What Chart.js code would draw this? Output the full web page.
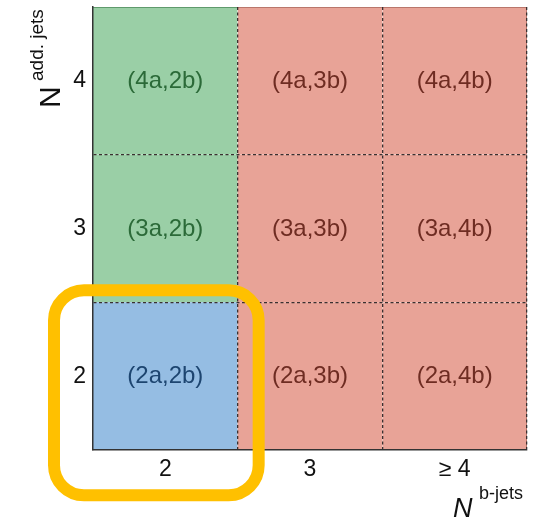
<!DOCTYPE html>
<html>
<head>
<meta charset="utf-8">
<script src="https://cdn.jsdelivr.net/npm/chart.js@4.4.0/dist/chart.umd.min.js"></script>
<style>
  html, body { margin: 0; padding: 0; background: #fff; }
  #wrap { width: 543px; height: 522px; }
</style>
</head>
<body>
<div id="wrap"><canvas id="grid"></canvas></div>
<script>
// b-jet multiplicity bins (x) and additional-jet bins (y, bottom to top)
var bJetBins = ['2', '3', '\u2265 4'];
var addJetBins = ['2', '3', '4'];
var addJetCodes = ['2a', '3a', '4a'];
var bJetCodes = ['2b', '3b', '4b'];
// region of each cell: rows = add. jets (2,3,4), columns = b-jets (2,3,>=4)
var regions = [
    ['signal', 'control', 'control'],
    ['valid', 'control', 'control'],
    ['valid', 'control', 'control']
];
var cellHeight = [1, 1, 1]; // every cell is one unit tall

var fills = { signal: '#95bde3', valid: '#9acfa6', control: '#e8a397' };
var edges = { signal: '#5a7fa6', valid: '#5f9a6c', control: '#b9766b' };
var inks = { signal: '#1d4570', valid: '#2b6a38', control: '#6e2c22' };

var FONT = '"Liberation Sans", Arial, Helvetica, sans-serif';

// labels "(Na,Mb)" in the middle of each cell
var cellLabels = {
    id: 'cellLabels',
    afterDatasetsDraw: function (chart) {
        var ctx = chart.ctx;
        ctx.save();
        ctx.font = '24px ' + FONT;
        ctx.textAlign = 'center';
        ctx.textBaseline = 'middle';
        chart.data.datasets.forEach(function (ds, row) {
            chart.getDatasetMeta(row).data.forEach(function (bar, col) {
                ctx.fillStyle = inks[regions[row][col]];
                ctx.fillText('(' + addJetCodes[row] + ',' + bJetCodes[col] + ')', bar.x, (bar.y + bar.base) / 2 + 1);
            });
        });
        ctx.restore();
    }
};

// axis titles with superscripts + the highlight box round the (2a,2b) cell
var extras = {
    id: 'extras',
    afterDraw: function (chart) {
        var ctx = chart.ctx;
        ctx.save();
        ctx.fillStyle = '#111';
        ctx.textBaseline = 'alphabetic';

        // x title: N^{b-jets}
        ctx.textAlign = 'left';
        ctx.font = 'italic 27px ' + FONT;
        ctx.fillText('N', 453, 517);
        ctx.font = '18px ' + FONT;
        ctx.fillText('b-jets', 479, 499);

        // y title: N^{add. jets}, rotated
        ctx.save();
        ctx.translate(60, 108);
        ctx.rotate(-Math.PI / 2);
        ctx.font = '30px ' + FONT;
        ctx.fillText('N', 0, 0);
        ctx.font = '19px ' + FONT;
        ctx.fillText('add. jets', 27, -17);
        ctx.restore();

        // highlight box round the first cell
        var bar = chart.getDatasetMeta(0).data[0];
        var half = bar.width / 2;
        var x0 = bar.x - half - 39, x1 = bar.x + half + 21;
        var y0 = bar.y - 12, y1 = bar.base + 46;
        ctx.strokeStyle = '#ffc000';
        ctx.lineWidth = 12;
        ctx.beginPath();
        ctx.roundRect(x0, y0, x1 - x0, y1 - y0, 30);
        ctx.stroke();
        ctx.restore();
    }
};

var datasets = addJetBins.map(function (label, row) {
    return {
        label: label,
        data: bJetBins.map(function () { return cellHeight[row]; }),
        backgroundColor: regions[row].map(function (r) { return fills[r]; }),
        borderColor: regions[row].map(function (r) { return edges[r]; }),
        borderWidth: function (c) {
            return {
                top: row === addJetBins.length - 1 ? 1 : 0,
                right: c.dataIndex === bJetBins.length - 1 ? 1 : 0,
                bottom: 0,
                left: 0
            };
        },
        borderSkipped: false,
        inflateAmount: 0,
        barPercentage: 1,
        categoryPercentage: 1
    };
});

new Chart(document.getElementById('grid'), {
    type: 'bar',
    data: { labels: bJetBins, datasets: datasets },
    plugins: [cellLabels, extras],
    options: {
        responsive: true,
        maintainAspectRatio: false,
        animation: false,
        layout: { padding: { top: 7, right: 16, left: 0, bottom: 0 } },
        plugins: { legend: { display: false }, tooltip: { enabled: false } },
        scales: {
            x: {
                stacked: true,
                grid: {
                    z: 1,
                    offset: true,
                    drawTicks: false,
                    lineWidth: 1.3,
                    color: function (c) {
                        return (c.index === 0 || c.index === bJetBins.length) ? 'rgba(0,0,0,0)' : '#3a3030';
                    }
                },
                border: { display: true, color: '#333', width: 1.5, dash: [3, 2.5], z: 2 },
                ticks: { color: '#111', font: { family: FONT, size: 23 }, padding: 6 },
                afterFit: function (s) { s.height = 72; s.paddingLeft = 0; s.paddingRight = 0; }
            },
            y: {
                stacked: true,
                min: 0,
                max: addJetBins.length,
                afterBuildTicks: function (s) {
                    var t = [];
                    for (var v = 0; v <= addJetBins.length; v += 0.5) t.push({ value: v });
                    s.ticks = t;
                },
                grid: {
                    z: 1,
                    drawTicks: false,
                    lineWidth: 1.3,
                    color: function (c) {
                        var v = c.tick ? c.tick.value : 0;
                        return (v > 0 && v < addJetBins.length && v % 1 === 0) ? '#3a3030' : 'rgba(0,0,0,0)';
                    }
                },
                border: { display: true, color: '#333', width: 1.5, dash: [3, 2.5], z: 2 },
                ticks: {
                    color: '#111',
                    font: { family: FONT, size: 23 },
                    padding: 7,
                    autoSkip: false,
                    callback: function (v) {
                        return v % 1 === 0.5 ? addJetBins[Math.floor(v)] : '';
                    }
                },
                afterFit: function (s) { s.width = 93; s.paddingTop = 0; s.paddingBottom = 0; }
            }
        }
    }
});
</script>
</body>
</html>
